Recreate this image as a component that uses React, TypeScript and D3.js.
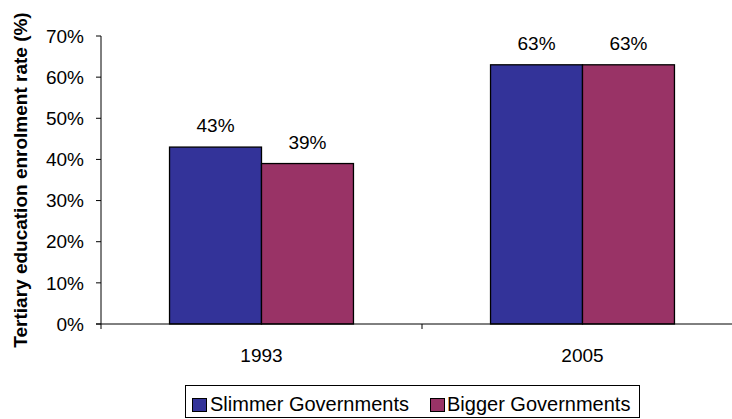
import React from "react";
import * as d3 from "d3";

const categories = ["1993", "2005"];
const seriesNames = ["Slimmer Governments", "Bigger Governments"];
const slimmer = [0.43, 0.63];
const bigger = [0.39, 0.63];
const yTicks = [0, 0.1, 0.2, 0.3, 0.4, 0.5, 0.6, 0.7];
const colors = ["#333399", "#993366"];

const W = 732;
const H = 419;
const left = 101;
const right = 743;
const top = 36;
const bottom = 324;
const font = "Liberation Sans, Arial, sans-serif";

export default function App() {
  const x = d3.scaleBand<string>().domain(categories).range([left, right]).paddingInner(0.427).paddingOuter(0.2135);
  const xs = d3.scaleBand<string>().domain(seriesNames).range([0, x.bandwidth()]);
  const y = d3.scaleLinear().domain([0, 0.7]).range([bottom, top]);
  const series = [slimmer, bigger];
  const fmt = d3.format(".0%");
  return (
    <svg width={W} height={H} style={{ position: "absolute", left: 0, top: 0, background: "#fff" }} fontFamily={font}>
      <rect x={0} y={0} width={W} height={H} fill="#fff" />
      {categories.map((c, i) =>
        series.map((s, j) => (
          <g key={c + j}>
            <rect
              x={(x(c) as number) + (xs(seriesNames[j]) as number)}
              y={y(s[i])}
              width={xs.bandwidth()}
              height={bottom - y(s[i])}
              fill={colors[j]}
              stroke="#000"
              strokeWidth={1.3}
            />
            <text
              x={(x(c) as number) + (xs(seriesNames[j]) as number) + xs.bandwidth() / 2}
              y={y(s[i]) - 15}
              textAnchor="middle"
              fontSize={19}
              fill="#000"
            >
              {fmt(s[i])}
            </text>
          </g>
        ))
      )}
      <line x1={left} x2={left} y1={top} y2={bottom} stroke="#000" strokeWidth={1} />
      <line x1={left - 5} x2={right} y1={bottom} y2={bottom} stroke="#000" strokeWidth={1} />
      {yTicks.map((t) => (
        <g key={t}>
          <line x1={left - 5} x2={left} y1={y(t)} y2={y(t)} stroke="#000" />
          <text x={left - 17} y={y(t)} dy="0.35em" textAnchor="end" fontSize={19} fill="#000">
            {fmt(t)}
          </text>
        </g>
      ))}
      {[left, left + x.step(), right].map((v, i) => (
        <line key={i} x1={v} x2={v} y1={bottom} y2={bottom + 5} stroke="#000" />
      ))}
      {categories.map((c) => (
        <text key={c} x={(x(c) as number) + x.bandwidth() / 2} y={bottom + 38} textAnchor="middle" fontSize={19} fill="#000">
          {c}
        </text>
      ))}
      <text
        transform={`translate(27, ${(top + bottom) / 2}) rotate(-90)`}
        textAnchor="middle"
        fontSize={19}
        fontWeight="bold"
        fill="#000"
      >
        Tertiary education enrolment rate (%)
      </text>
      <g>
        <rect x={185.5} y={385.5} width={454} height={32} fill="#fff" stroke="#000" />
        <rect x={192.5} y={398.5} width={14} height={13} fill={colors[0]} stroke="#000" />
        <text x={210} y={411} fontSize={20} fill="#000">{seriesNames[0]}</text>
        <rect x={430.5} y={398.5} width={14} height={13} fill={colors[1]} stroke="#000" />
        <text x={447} y={411} fontSize={20} fill="#000">{seriesNames[1]}</text>
      </g>
    </svg>
  );
}
